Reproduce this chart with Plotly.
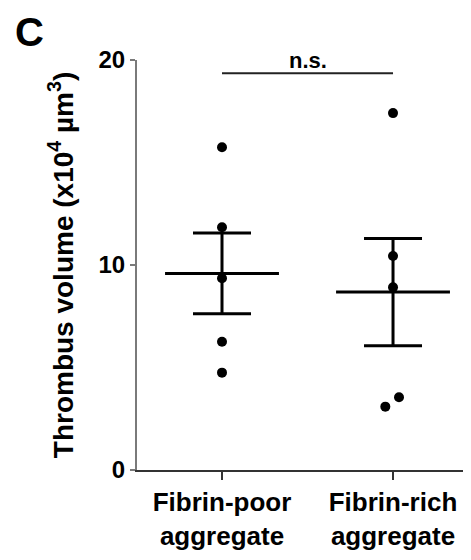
import numpy as np
import plotly.graph_objects as go

# ---- data ----
categories = ["Fibrin-poor<br>aggregate", "Fibrin-rich<br>aggregate"]
fibrin_poor = [15.74, 11.84, 9.35, 6.26, 4.75]
fibrin_rich = [17.41, 10.44, 8.91, 3.55, 3.09]
jitter_poor = [0, 0, 0, 0, 0]
jitter_rich = [0, 0, 0, 0.035, -0.045]
y_ticks = [0, 10, 20]
sig_label = "n.s."
sig_level = 19.35
panel_label = "C"
y_title = "Thrombus volume (x10<sup>4</sup> µm<sup>3</sup>)"

FONT = "Liberation Sans, Arial, sans-serif"
groups = [fibrin_poor, fibrin_rich]
jitters = [jitter_poor, jitter_rich]
half_mean = 0.333

# page body has an 8px margin; figure is sized to fill the rest of the window
W, H = 463, 552
ML, MR, MT, MB = 129, 0, 52, 90
PW, PH = W - ML - MR, H - MT - MB

fig = go.Figure()
for i, (vals, jit) in enumerate(zip(groups, jitters)):
    v = np.array(vals)
    mean = v.mean()
    sem = v.std(ddof=1) / np.sqrt(len(v))
    fig.add_trace(go.Scatter(
        x=[i + j for j in jit], y=vals, mode="markers",
        marker=dict(color="black", size=10), showlegend=False, hoverinfo="y"))
    fig.add_trace(go.Scatter(
        x=[i - half_mean, i + half_mean], y=[mean, mean], mode="lines",
        line=dict(color="black", width=3), showlegend=False, hoverinfo="skip"))
    fig.add_trace(go.Scatter(
        x=[i], y=[mean], mode="markers", marker=dict(size=1, color="black"),
        error_y=dict(type="data", array=[sem], visible=True, color="black",
                     thickness=3, width=29),
        showlegend=False, hoverinfo="skip"))

# significance bracket
fig.add_trace(go.Scatter(x=[0, 1], y=[sig_level, sig_level], mode="lines",
                         line=dict(color="#222", width=2), showlegend=False,
                         hoverinfo="skip"))
fig.add_annotation(x=0.5, y=sig_level, xref="x", yref="y", text="<b>%s</b>" % sig_label,
                   showarrow=False, yanchor="bottom", yshift=-2,
                   font=dict(family=FONT, size=22, color="black"))

# panel label
fig.add_annotation(x=(5 - ML) / PW, y=1 + MT / PH, xref="paper", yref="paper",
                   text="<b>%s</b>" % panel_label, showarrow=False,
                   xanchor="left", yanchor="top",
                   font=dict(family=FONT, size=40, color="black"))

fig.update_layout(
    width=W, height=H,
    margin=dict(l=ML, r=MR, t=MT, b=MB),
    paper_bgcolor="white", plot_bgcolor="white",
    font=dict(family=FONT, color="black"),
    xaxis=dict(range=[-0.497, 1.456], tickvals=[0, 1],
               ticktext=["<b>%s</b>" % c.replace("<br>", "</b><br><b>") for c in categories],
               showline=True, linecolor="#333", linewidth=2, ticks="outside",
               ticklen=8, tickwidth=2, tickcolor="#333", showgrid=False, zeroline=False,
               tickfont=dict(family=FONT, size=26, color="black")),
    yaxis=dict(range=[0, 20], tickvals=y_ticks, ticktext=["<b>%d</b>" % t for t in y_ticks],
               showline=True, linecolor="#7a7a7a", linewidth=2, ticks="outside",
               ticklen=5, tickwidth=2, tickcolor="#7a7a7a", showgrid=False, zeroline=False,
               tickfont=dict(family=FONT, size=24, color="black"),
               title=dict(text="<b>%s</b>" % y_title, standoff=17,
                          font=dict(family=FONT, size=28, color="black"))),
)

fig.write_html("out.html")
